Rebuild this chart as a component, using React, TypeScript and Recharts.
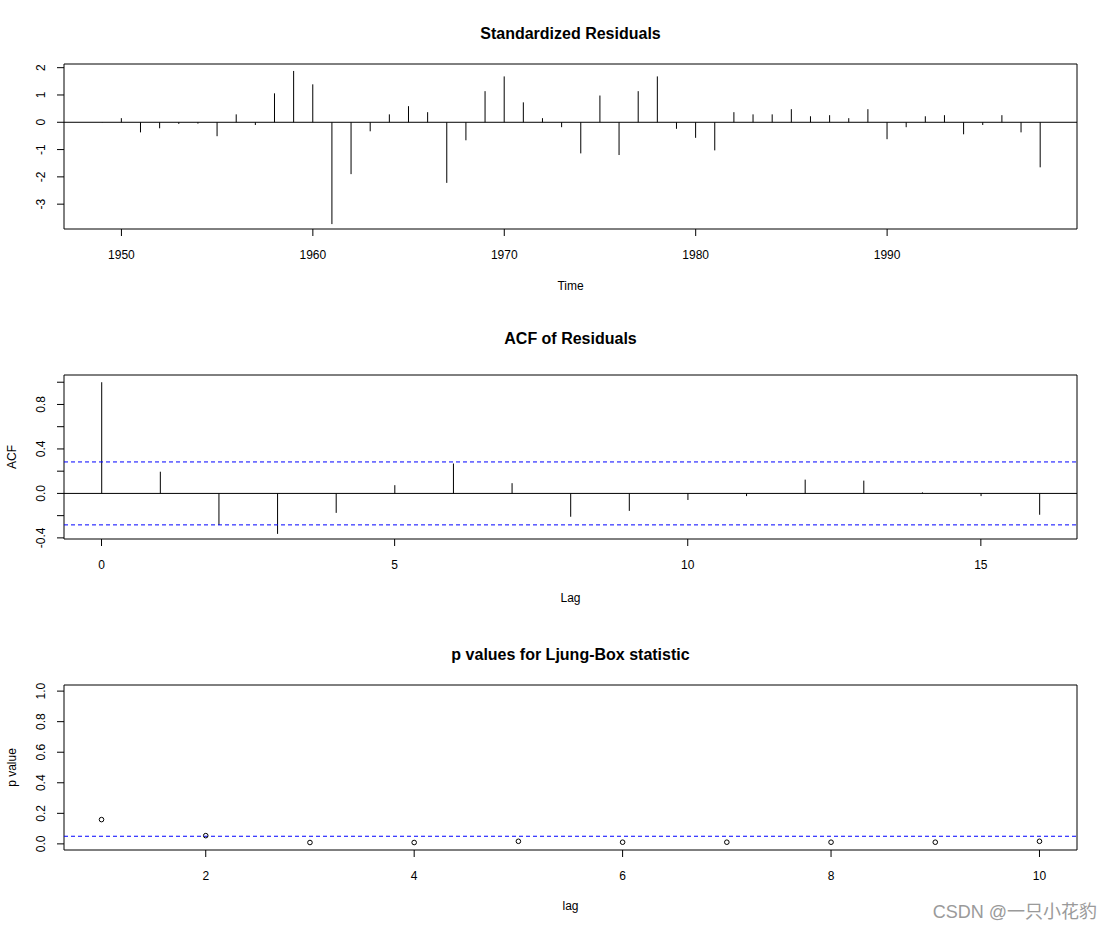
import React from 'react';
import { ComposedChart, Bar, Scatter, XAxis, YAxis, ReferenceLine, ReferenceArea } from 'recharts';

// ---- data ----
const years = [
  1949, 1950, 1951, 1952, 1953, 1954, 1955, 1956, 1957, 1958,
  1959, 1960, 1961, 1962, 1963, 1964, 1965, 1966, 1967, 1968,
  1969, 1970, 1971, 1972, 1973, 1974, 1975, 1976, 1977, 1978,
  1979, 1980, 1981, 1982, 1983, 1984, 1985, 1986, 1987, 1988,
  1989, 1990, 1991, 1992, 1993, 1994, 1995, 1996, 1997, 1998,
];
const residuals = [
  0.01, 0.15, -0.37, -0.22, -0.06, -0.05, -0.51, 0.29, -0.1, 1.06,
  1.88, 1.39, -3.73, -1.9, -0.33, 0.29, 0.59, 0.37, -2.22, -0.66,
  1.14, 1.68, 0.73, 0.15, -0.18, -1.14, 0.98, -1.2, 1.14, 1.68,
  -0.24, -0.57, -1.03, 0.37, 0.29, 0.29, 0.48, 0.22, 0.26, 0.15,
  0.48, -0.62, -0.18, 0.22, 0.26, -0.44, -0.1, 0.26, -0.37, -1.65,
];
const acfLags = [0, 1, 2, 3, 4, 5, 6, 7, 8, 9, 10, 11, 12, 13, 14, 15, 16];
const acfValues = [
  1.0, 0.195, -0.284, -0.364, -0.175, 0.074, 0.269, 0.092, -0.21,
  -0.157, -0.059, -0.024, 0.124, 0.115, 0.009, -0.024, -0.192,
];
const pLags = [1, 2, 3, 4, 5, 6, 7, 8, 9, 10];
const pValues = [0.159, 0.054, 0.009, 0.009, 0.017, 0.011, 0.011, 0.011, 0.011, 0.017];

const residualXTicks = [1950, 1960, 1970, 1980, 1990];
const residualYTicks = [-3, -2, -1, 0, 1, 2];
const acfXTicks = [0, 5, 10, 15];
const acfYTicks = [-0.4, -0.2, 0, 0.2, 0.4, 0.6, 0.8, 1.0];
const acfYLabels = [-0.4, 0, 0.4, 0.8];
const pXTicks = [2, 4, 6, 8, 10];
const pYTicks = [0, 0.2, 0.4, 0.6, 0.8, 1.0];
const acfBound = 0.283;
const pThreshold = 0.05;

const residualXDomain: [number, number] = [1947.0, 1999.92];
const residualYDomain: [number, number] = [-3.91, 2.135];
const acfXDomain: [number, number] = [-0.64, 16.64];
const acfYDomain: [number, number] = [-0.41, 1.065];
const pXDomain: [number, number] = [0.64, 10.36];
const pYDomain: [number, number] = [-0.04, 1.04];

const residualData = years.map((year, i) => ({ year, value: residuals[i] }));
const acfData = acfLags.map((lag, i) => ({ lag, value: acfValues[i] }));
const pData = pLags.map((lag, i) => ({ lag, p: pValues[i] }));

const FONT = '"Liberation Sans", Arial, "Noto Sans CJK SC", sans-serif';
const W = 1111;
const PANEL_H = 310;

const Stick = (props: any) => {
  const { x, y, width, height } = props;
  if (x == null || y == null) return <g />;
  const cx = x + width / 2;
  return <line x1={cx} x2={cx} y1={y} y2={y + (height || 0)} stroke="#000" strokeWidth={1} />;
};

const Dot = (props: any) => {
  const { cx, cy } = props;
  if (cx == null || cy == null) return <g />;
  return <circle cx={cx} cy={cy} r={2.3} fill="none" stroke="#000" strokeWidth={1} />;
};

const makeYTick = (labels: number[] | null, fmt: (v: number) => string) => (props: any) => {
  const { x, y, payload } = props;
  const v = payload.value as number;
  if (labels && !labels.some((l) => Math.abs(l - v) < 1e-9)) return <g />;
  const tx = x - 11.5;
  return (
    <text x={tx} y={y} transform={`rotate(-90 ${tx} ${y})`} textAnchor="middle" fontSize={12} fill="#000" fontFamily={FONT}>
      {fmt(v)}
    </text>
  );
};

const xAxisCommon = {
  type: 'number' as const,
  allowDataOverflow: true,
  height: 30,
  tickSize: 7,
  tickMargin: 14.5,
  axisLine: false,
  tickLine: { stroke: '#000', strokeWidth: 1 },
  tick: { fill: '#000', fontSize: 12, fontFamily: FONT },
  interval: 0 as const,
};

const yAxisCommon = {
  type: 'number' as const,
  allowDataOverflow: true,
  width: 50,
  tickSize: 7,
  tickMargin: 0,
  axisLine: false,
  tickLine: { stroke: '#000', strokeWidth: 1 },
  interval: 0 as const,
};

export default function App() {
  return (
    <div style={{ position: 'absolute', left: 0, top: 0, width: W, height: 931, background: '#fff', fontFamily: FONT }}>
      {/* Panel 1: Standardized Residuals */}
      <div style={{ position: 'absolute', left: 0, top: 0 }}>
        <ComposedChart width={W} height={PANEL_H} data={residualData} margin={{ top: 64, right: 34, bottom: 51, left: 14 }}>
          <XAxis dataKey="year" domain={residualXDomain} ticks={residualXTicks} {...xAxisCommon} />
          <YAxis domain={residualYDomain} ticks={residualYTicks} tick={makeYTick(null, (v) => String(v))} {...yAxisCommon} />
          <ReferenceLine y={0} stroke="#000" strokeWidth={1} />
          <Bar dataKey="value" barSize={1} shape={Stick} isAnimationActive={false} />
          <ReferenceArea x1={residualXDomain[0]} x2={residualXDomain[1]} y1={residualYDomain[0]} y2={residualYDomain[1]} fill="none" fillOpacity={0} stroke="#000" strokeWidth={1} ifOverflow="visible" />
        </ComposedChart>
      </div>

      {/* Panel 2: ACF of Residuals */}
      <div style={{ position: 'absolute', left: 0, top: 310 }}>
        <ComposedChart width={W} height={PANEL_H} data={acfData} margin={{ top: 65, right: 34, bottom: 51, left: 14 }}>
          <XAxis dataKey="lag" domain={acfXDomain} ticks={acfXTicks} {...xAxisCommon} />
          <YAxis domain={acfYDomain} ticks={acfYTicks} tick={makeYTick(acfYLabels, (v) => v.toFixed(1))} {...yAxisCommon} />
          <ReferenceLine y={0} stroke="#000" strokeWidth={1} />
          <ReferenceLine y={acfBound} stroke="#0000FF" strokeWidth={1} strokeDasharray="4 3" />
          <ReferenceLine y={-acfBound} stroke="#0000FF" strokeWidth={1} strokeDasharray="4 3" />
          <Bar dataKey="value" barSize={1} shape={Stick} isAnimationActive={false} />
          <ReferenceArea x1={acfXDomain[0]} x2={acfXDomain[1]} y1={acfYDomain[0]} y2={acfYDomain[1]} fill="none" fillOpacity={0} stroke="#000" strokeWidth={1} ifOverflow="visible" />
        </ComposedChart>
      </div>

      {/* Panel 3: Ljung-Box p values */}
      <div style={{ position: 'absolute', left: 0, top: 620 }}>
        <ComposedChart width={W} height={PANEL_H} data={pData} margin={{ top: 65, right: 34, bottom: 50, left: 14 }}>
          <XAxis dataKey="lag" domain={pXDomain} ticks={pXTicks} {...xAxisCommon} />
          <YAxis domain={pYDomain} ticks={pYTicks} tick={makeYTick(null, (v) => v.toFixed(1))} {...yAxisCommon} />
          <ReferenceLine y={pThreshold} stroke="#0000FF" strokeWidth={1} strokeDasharray="4 3" />
          <Scatter dataKey="p" shape={Dot} isAnimationActive={false} />
          <ReferenceArea x1={pXDomain[0]} x2={pXDomain[1]} y1={pYDomain[0]} y2={pYDomain[1]} fill="none" fillOpacity={0} stroke="#000" strokeWidth={1} ifOverflow="visible" />
        </ComposedChart>
      </div>

      {/* Titles and axis labels */}
      <svg width={W} height={931} style={{ position: 'absolute', left: 0, top: 0, pointerEvents: 'none' }} fontFamily={FONT}>
        <text x={570.5} y={39} textAnchor="middle" fontWeight="bold" fontSize={16} fill="#000">Standardized Residuals</text>
        <text x={570.5} y={289.5} textAnchor="middle" fontSize={12} fill="#000">Time</text>

        <text x={570.5} y={344} textAnchor="middle" fontWeight="bold" fontSize={16} fill="#000">ACF of Residuals</text>
        <text x={570.5} y={601.5} textAnchor="middle" fontSize={12} fill="#000">Lag</text>
        <text x={15.5} y={457} transform="rotate(-90 15.5 457)" textAnchor="middle" fontSize={12} fill="#000">ACF</text>

        <text x={570.5} y={660} textAnchor="middle" fontWeight="bold" fontSize={16} fill="#000">p values for Ljung-Box statistic</text>
        <text x={570.5} y={910} textAnchor="middle" fontSize={12} fill="#000">lag</text>
        <text x={15.5} y={767.5} transform="rotate(-90 15.5 767.5)" textAnchor="middle" fontSize={12} fill="#000">p value</text>

        <text x={1097} y={918} textAnchor="end" fontSize={18} fill="#9a9a9a">CSDN @一只小花豹</text>
      </svg>
    </div>
  );
}
